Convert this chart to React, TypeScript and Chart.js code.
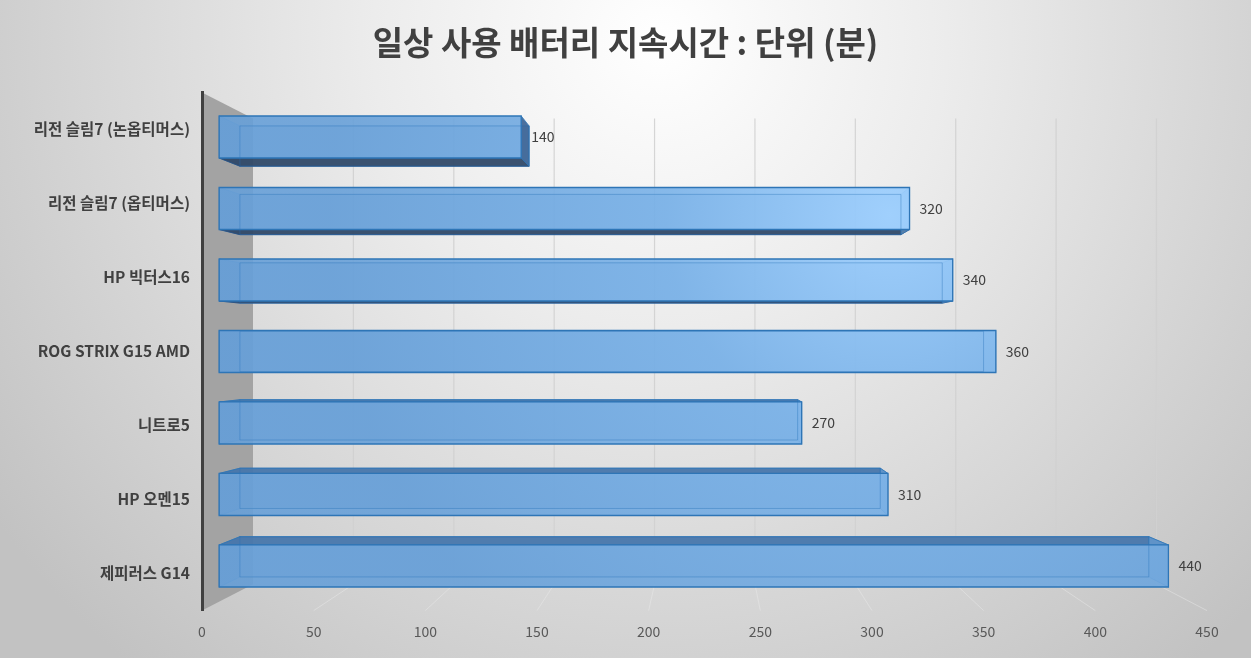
import React, { useEffect, useRef } from 'react';
import { Chart, registerables } from 'chart.js';

Chart.register(...registerables);

const chartTitle = '일상 사용 배터리 지속시간 : 단위 (분)';
const categories = [
  '리전 슬림7 (논옵티머스)',
  '리전 슬림7 (옵티머스)',
  'HP 빅터스16',
  'ROG STRIX G15 AMD',
  '니트로5',
  'HP 오멘15',
  '제피러스 G14',
];
const minutes = [140, 320, 340, 360, 270, 310, 440];
const axisMin = 0;
const axisMax = 450;
const axisStep = 50;

const FONT = '"Noto Sans CJK KR", "Noto Sans", sans-serif';
const VP = { x: 707, y: 350 };
const S_FRONT = 0.966;
const S_BACK = 0.925;
const S_WALL = 0.899;

type Pt = [number, number];
const proj = (x: number, y: number, s: number): Pt => [VP.x + s * (x - VP.x), VP.y + s * (y - VP.y)];

function poly(ctx: CanvasRenderingContext2D, pts: Pt[], fill?: string | CanvasGradient, stroke?: string, lw = 1) {
  ctx.beginPath();
  ctx.moveTo(pts[0][0], pts[0][1]);
  for (let i = 1; i < pts.length; i++) ctx.lineTo(pts[i][0], pts[i][1]);
  ctx.closePath();
  if (fill) {
    ctx.fillStyle = fill;
    ctx.fill();
  }
  if (stroke) {
    ctx.strokeStyle = stroke;
    ctx.lineWidth = lw;
    ctx.stroke();
  }
}

const scenePlugin = {
  id: 'scene3d',
  beforeDraw(chart: any) {
    const { ctx, width, height, chartArea } = chart;
    ctx.save();
    const g = ctx.createRadialGradient(660, 40, 0, 660, 40, 820);
    g.addColorStop(0, '#ffffff');
    g.addColorStop(0.35, '#ececec');
    g.addColorStop(1, '#c2c2c2');
    ctx.fillStyle = g;
    ctx.fillRect(0, 0, width, height);

    // title
    ctx.fillStyle = '#404040';
    ctx.font = `bold 33px ${FONT}`;
    ctx.textAlign = 'center';
    ctx.textBaseline = 'middle';
    ctx.fillText(chartTitle, width / 2, 42);

    const xs = chart.scales.x;
    const { left, top, bottom } = chartArea;
    // left wall
    poly(ctx, [proj(left, top, 1), proj(left, top, S_WALL), proj(left, bottom, S_WALL), proj(left, bottom, 1)], '#a3a3a3');
    // back wall gridlines and floor lines
    for (let v = axisMin + axisStep; v <= axisMax; v += axisStep) {
      const px = xs.getPixelForValue(v);
      const a = proj(px, top, S_WALL);
      const b = proj(px, bottom, S_WALL);
      const c = proj(px, bottom, 1);
      ctx.strokeStyle = 'rgba(208,208,208,0.9)';
      ctx.lineWidth = 1.2;
      ctx.beginPath();
      ctx.moveTo(a[0], a[1]);
      ctx.lineTo(b[0], b[1]);
      ctx.stroke();
      ctx.strokeStyle = 'rgba(236,236,236,0.45)';
      ctx.lineWidth = 1;
      ctx.beginPath();
      ctx.moveTo(b[0], b[1]);
      ctx.lineTo(c[0], c[1]);
      ctx.stroke();
    }
    ctx.restore();
  },
  afterDatasetsDraw(chart: any) {
    const { ctx } = chart;
    const meta = chart.getDatasetMeta(0);
    ctx.save();
    const frontGrad = ctx.createRadialGradient(890, 215, 0, 890, 215, 560);
    frontGrad.addColorStop(0, 'rgba(158,208,255,0.92)');
    frontGrad.addColorStop(0.4, 'rgba(122,178,232,0.9)');
    frontGrad.addColorStop(1, 'rgba(104,160,216,0.9)');
    meta.data.forEach((el: any, i: number) => {
      const p = el.getProps(['x', 'y', 'base', 'height'], true);
      const x0 = p.base;
      const x1 = p.x;
      const yt = p.y - p.height / 2;
      const yb = p.y + p.height / 2;
      const FTL = proj(x0, yt, S_FRONT), FTR = proj(x1, yt, S_FRONT), FBR = proj(x1, yb, S_FRONT), FBL = proj(x0, yb, S_FRONT);
      const BTL = proj(x0, yt, S_BACK), BTR = proj(x1, yt, S_BACK), BBR = proj(x1, yb, S_BACK), BBL = proj(x0, yb, S_BACK);
      const edge = 'rgba(46,117,182,0.6)';
      // back face
      poly(ctx, [BTL, BTR, BBR, BBL], 'rgba(80,140,205,0.35)', edge);
      // left face
      poly(ctx, [FTL, BTL, BBL, FBL], 'rgba(70,125,185,0.45)', edge);
      // bottom or top face
      if (yb < VP.y) {
        poly(ctx, [FBL, FBR, BBR, BBL], 'rgba(48,72,102,0.92)', 'rgba(40,80,130,0.8)');
      }
      if (yt > VP.y) {
        poly(ctx, [FTL, FTR, BTR, BTL], 'rgba(72,118,170,0.92)', 'rgba(46,117,182,0.8)');
      }
      // right face
      if (x1 < VP.x) {
        poly(ctx, [FTR, BTR, BBR, FBR], 'rgba(58,98,148,0.9)', 'rgba(46,117,182,0.8)');
      } else {
        poly(ctx, [FTR, BTR, BBR, FBR], 'rgba(110,170,228,0.5)', edge);
      }
      // front face
      poly(ctx, [FTL, FTR, FBR, FBL], frontGrad, '#2e75b6', 1.3);
      // faint inner back edges seen through the translucent front
      ctx.strokeStyle = 'rgba(46,117,182,0.35)';
      ctx.lineWidth = 1;
      ctx.beginPath();
      ctx.moveTo(BTL[0], BTL[1]);
      ctx.lineTo(BTR[0], BTR[1]);
      ctx.lineTo(BBR[0], BBR[1]);
      ctx.lineTo(BBL[0], BBL[1]);
      ctx.closePath();
      ctx.stroke();

      // data label
      const lblY = proj(x1, p.y, S_FRONT)[1];
      ctx.fillStyle = '#404040';
      ctx.font = `14px ${FONT}`;
      ctx.textAlign = 'left';
      ctx.textBaseline = 'middle';
      ctx.fillText(String(minutes[i]), FTR[0] + 10, lblY);
    });
    ctx.restore();
  },
};

export default function App() {
  const ref = useRef<HTMLCanvasElement | null>(null);
  useEffect(() => {
    document.body.style.margin = '0';
    const canvas = ref.current;
    if (!canvas) return;
    const chart = new Chart(canvas, {
      type: 'bar',
      data: {
        labels: categories,
        datasets: [
          {
            data: minutes,
            backgroundColor: 'rgba(0,0,0,0)',
            borderWidth: 0,
            categoryPercentage: 1,
            barPercentage: 0.588,
          },
        ],
      },
      options: {
        indexAxis: 'y',
        responsive: false,
        animation: false,
        events: [],
        layout: { padding: { left: 0, right: 44, top: 92.5, bottom: 0 } },
        plugins: {
          legend: { display: false },
          tooltip: { enabled: false },
          title: { display: false },
        },
        scales: {
          x: {
            type: 'linear',
            min: axisMin,
            max: axisMax,
            ticks: {
              stepSize: axisStep,
              color: '#595959',
              font: { family: FONT, size: 14 },
              padding: 13,
            },
            grid: { display: false, drawTicks: false },
            border: { display: false },
            afterFit: (s: any) => {
              s.height = 47.4;
            },
          },
          y: {
            type: 'category',
            ticks: {
              color: '#404040',
              font: { family: FONT, size: 15.5, weight: 'bold' },
              padding: 12,
            },
            grid: { display: false, drawTicks: false },
            border: { display: true, color: '#404040', width: 3 },
            afterFit: (s: any) => {
              s.width = 202;
            },
          },
        },
      },
      plugins: [scenePlugin],
    } as any);
    return () => chart.destroy();
  }, []);
  return (
    <div style={{ width: 1251, height: 658 }}>
      <canvas ref={ref} width={1251} height={658} style={{ width: 1251, height: 658, display: 'block' }} />
    </div>
  );
}
